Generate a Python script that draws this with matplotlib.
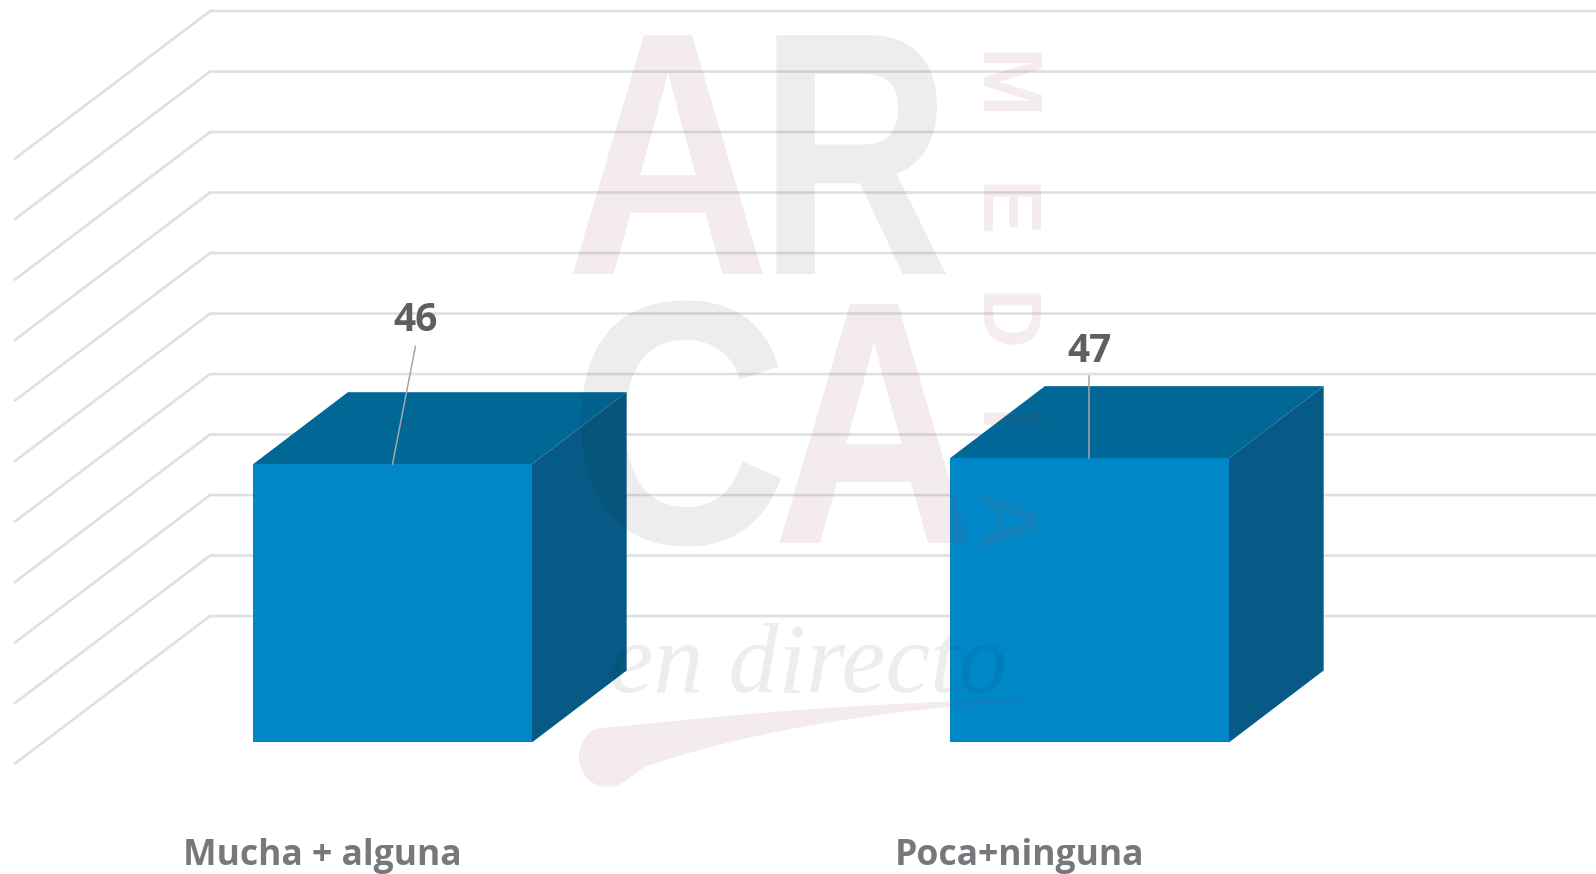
import matplotlib
matplotlib.use("Agg")
import matplotlib.pyplot as plt
from matplotlib.patches import Polygon, PathPatch
from matplotlib.path import Path
from matplotlib.patheffects import AbstractPathEffect
from matplotlib.transforms import Affine2D

# chart data
categories = ["Mucha + alguna", "Poca+ninguna"]
values = [46, 47]
grid_values = [10, 20, 30, 40, 50, 60, 70, 80, 90, 100, 110]

# colours
front_color = "#0087C8"
top_color = "#006797"
side_color = "#075A85"
grid_color = "#DEE1E1"
label_color = "#77787B"
value_color = "#5F5F5F"

# fake 3d: how far the back of a bar sits from its front, in data units
bar_width = 0.4
depth_x = 0.136
depth_y = 11.9
# back wall and side wall of the grid
wall_shift = 10.9
wall_left = -0.2618
wall_front = -0.543
wall_drop = 24.5
# leader lines and value labels, offsets from the bar top
lead_dx = [0.033, 0.0]
lead_len = [19.5, 13.6]
label_up = [23.7, 17.7]


# squeezes a letter sideways, the logo font is narrower than what is installed
class Squeeze(AbstractPathEffect):
    def __init__(self, cx, sx):
        super().__init__()
        self.cx = cx
        self.sx = sx

    def draw_path(self, renderer, gc, tpath, affine, rgbFace=None):
        squeeze = Affine2D().translate(-self.cx, 0).scale(self.sx, 1).translate(self.cx, 0)
        renderer.draw_path(gc, tpath, affine + squeeze, rgbFace)


fig = plt.figure(figsize=(15.96, 8.74), dpi=100)
ax = fig.add_axes([0, 0, 1, 1])
ax.set_xlim(-0.5631, 1.7267)
ax.set_ylim(-21.74, 122.73)
ax.axis("off")

# gridlines along back wall and down the side wall
for g in grid_values:
    y = g + wall_shift
    ax.plot([wall_front, wall_left, 1.7267], [y - wall_drop, y, y],
            color=grid_color, lw=1.9, zorder=1, solid_joinstyle="miter", solid_capstyle="butt")

# bars
for i, v in enumerate(values):
    x0 = i - bar_width / 2
    x1 = i + bar_width / 2
    ax.add_patch(Polygon([(x0, v), (x1, v), (x1 + depth_x, v + depth_y), (x0 + depth_x, v + depth_y)],
                         color=top_color, lw=0, zorder=3))
    ax.add_patch(Polygon([(x1, 0), (x1 + depth_x, depth_y), (x1 + depth_x, v + depth_y), (x1, v)],
                         color=side_color, lw=0, zorder=3))
    ax.add_patch(Polygon([(x0, 0), (x1, 0), (x1, v), (x0, v)],
                         color=front_color, lw=0, zorder=4))

# value labels with leader lines
for i, v in enumerate(values):
    ax.plot([i, i + lead_dx[i]], [v, v + lead_len[i]], color="#A6A6A6", lw=1.1, zorder=5)
    ax.text(i + lead_dx[i], v + label_up[i], str(v), color=value_color, fontsize=28,
            fontweight="bold", family="Open Sans", ha="center", va="center", zorder=5)

# category labels
for i, name in enumerate(categories):
    ax.text(i - 0.1, -20.2, name, color=label_color, fontsize=25.6, fontweight="bold",
            family="Open Sans", ha="center", va="baseline", zorder=5)

# watermark on top of everything, placed in pixels
wm = fig.add_axes([0, 0, 1, 1], zorder=10)
wm.set_xlim(0, 1596)
wm.set_ylim(874, 0)
wm.axis("off")
wm.patch.set_alpha(0)

pink = (155 / 255, 75 / 255, 75 / 255)
grey = (30 / 255, 30 / 255, 30 / 255)

big = dict(fontsize=250, fontweight="bold", family="Liberation Sans", ha="center", va="baseline")
logo_letters = ["A", "R", "C", "A"]
logo_x = [668, 855, 679, 874]
logo_y = [274, 274, 543, 543]
logo_sx = [0.815, 0.77, 0.88, 0.81]
logo_col = [(pink, 0.1), (grey, 0.08), (grey, 0.08), (pink, 0.1)]
for letter, x, y, sx, (col, al) in zip(logo_letters, logo_x, logo_y, logo_sx, logo_col):
    wm.text(x, y, letter, color=col, alpha=al, path_effects=[Squeeze(x, sx)], **big)

media_letters = ["M", "E", "D", "I", "A"]
media_y = [86, 211, 322, 423, 522]
for letter, y in zip(media_letters, media_y):
    wm.text(999, y, letter, color=pink, alpha=0.1, fontsize=60, fontweight="bold",
            family="Liberation Sans", rotation=-90, ha="center", va="center")

wm.text(808, 692, "en directo", color=grey, alpha=0.08, fontsize=72, style="italic",
        family="Liberation Serif", ha="center", va="baseline")

# brush stroke under the script
stroke = Path([(600, 728), (680, 722), (800, 703), (1075, 698),
               (900, 706), (750, 730), (645, 767),
               (630, 776), (622, 787), (608, 787),
               (590, 787), (579, 773), (579, 757),
               (579, 741), (590, 729), (600, 728)],
              [Path.MOVETO, Path.CURVE4, Path.CURVE4, Path.CURVE4,
               Path.CURVE4, Path.CURVE4, Path.CURVE4,
               Path.CURVE4, Path.CURVE4, Path.CURVE4,
               Path.CURVE4, Path.CURVE4, Path.CURVE4,
               Path.CURVE4, Path.CURVE4, Path.CURVE4])
wm.add_patch(PathPatch(stroke, facecolor=pink, alpha=0.1, lw=0))

fig.savefig("out.png", dpi=100)
